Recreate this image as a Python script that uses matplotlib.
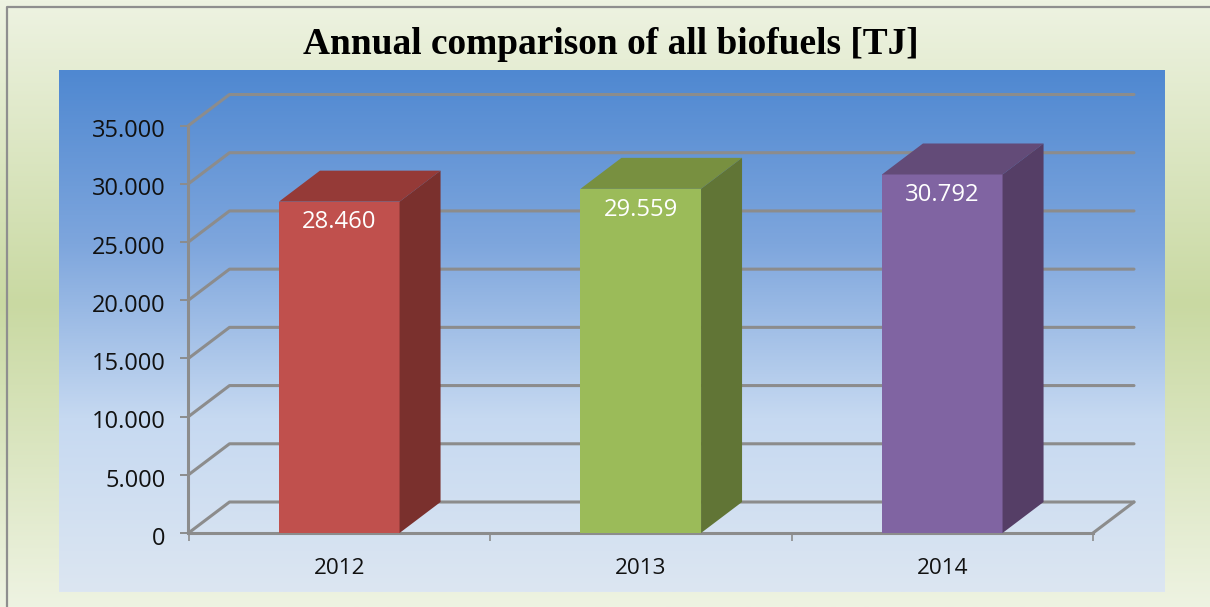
# -*- coding: utf-8 -*-
import matplotlib
matplotlib.use("Agg")
import matplotlib.pyplot as plt
import numpy as np
from matplotlib.colors import LinearSegmentedColormap
from matplotlib.patches import Polygon
from matplotlib.transforms import ScaledTranslation

W = 1210
H = 607

YEARS = ["2012", "2013", "2014"]
VALUES = [28460, 29559, 30792]
Y_TICKS = [0, 5000, 10000, 15000, 20000, 25000, 30000, 35000]
TITLE = "Annual comparison of all biofuels [TJ]"

FRONT_COLORS = ["#c0504d", "#9bbb59", "#8064a2"]
TOP_COLORS = ["#953a37", "#789040", "#634b78"]
SIDE_COLORS = ["#7a302d", "#617536", "#553e66"]

# pixel boxes of the figure
PLOT_BOX = (59, 70, 1165, 592)
FRONT_BOX = (188.5, 125.5, 1093, 533)
GRID = "#8c8c8c"
BAR_WIDTH = 0.4


def fmt(v):
    return f"{v:,}".replace(",", ".")


def add_axes_px(fig, x0, y0, x1, y1, **kw):
    return fig.add_axes([x0 / W, 1 - y1 / H, (x1 - x0) / W, (y1 - y0) / H], **kw)


def gradient(fig, box, stops, zorder):
    ax = add_axes_px(fig, *box)
    cmap = LinearSegmentedColormap.from_list("g", stops)
    ax.imshow(np.linspace(0, 1, 256).reshape(-1, 1), cmap=cmap, aspect="auto", vmin=0, vmax=1)
    ax.set_axis_off()
    ax.set_zorder(zorder)
    return ax


def main():
    plt.rcParams["font.family"] = ["Open Sans", "DejaVu Sans"]
    fig = plt.figure(figsize=(W / 100, H / 100), dpi=100)

    gradient(fig, (0, 0, W, H), ["#eef3e2", "#c9d9a2", "#eef3e2"], 0)
    gradient(fig, PLOT_BOX, ["#4f88d1", "#7ea6dd", "#c6d9f1", "#dce6f2"], 1)

    ax = add_axes_px(fig, *FRONT_BOX)
    ax.set_zorder(2)
    ax.patch.set_visible(False)
    ax.set_xlim(-0.5, 2.5)
    ax.set_ylim(0, 35000)
    for name in ["top", "right"]:
        ax.spines[name].set_visible(False)
    for name in ["left", "bottom"]:
        ax.spines[name].set_color(GRID)
        ax.spines[name].set_linewidth(2.2)

    # depth of the 3d box, 41 px across and 31 px up
    dx = 41 / (FRONT_BOX[2] - FRONT_BOX[0]) * 3
    dy = 31 / (FRONT_BOX[3] - FRONT_BOX[1]) * 35000

    for t in Y_TICKS:
        ax.plot([-0.5, -0.5 + dx, 2.5 + dx], [t, t + dy, t + dy], color=GRID, lw=2.2,
                clip_on=False, zorder=1, solid_capstyle="round", solid_joinstyle="round")
    ax.plot([2.5, 2.5 + dx], [0, dy], color=GRID, lw=2.2, clip_on=False, zorder=1,
            solid_capstyle="round")

    for i, v in enumerate(VALUES):
        x0 = i - BAR_WIDTH / 2
        x1 = i + BAR_WIDTH / 2
        ax.bar(i, v, width=BAR_WIDTH, color=FRONT_COLORS[i], zorder=3, clip_on=False)
        ax.add_patch(Polygon([(x0, v), (x1, v), (x1 + dx, v + dy), (x0 + dx, v + dy)],
                             closed=True, facecolor=TOP_COLORS[i], edgecolor="none",
                             zorder=3, clip_on=False))
        ax.add_patch(Polygon([(x1, 0), (x1 + dx, dy), (x1 + dx, v + dy), (x1, v)],
                             closed=True, facecolor=SIDE_COLORS[i], edgecolor="none",
                             zorder=3, clip_on=False))
        ax.annotate(fmt(v), (i, v), xytext=(0, -15), textcoords="offset points",
                    ha="center", va="center", color="white", fontsize=17.2, zorder=4)

    ax.set_yticks(Y_TICKS)
    ax.set_yticklabels([fmt(t) for t in Y_TICKS], fontsize=17, color="#111111")
    ax.set_xticks([-0.5, 0.5, 1.5, 2.5], minor=False)
    ax.set_xticklabels([])
    ax.set_xticks([0, 1, 2], minor=True)
    ax.set_xticklabels(YEARS, minor=True, fontsize=16.2, color="#111111")
    ax.tick_params(axis="y", length=5.5, width=1.4, color=GRID, pad=11)
    ax.tick_params(axis="x", which="major", length=5.5, width=1.2, color=GRID)
    ax.tick_params(axis="x", which="minor", length=0, pad=18)

    # labels sit about 2 px lower than the tick in the original
    shift = ScaledTranslation(0, -2 / 72, fig.dpi_scale_trans)
    for lab in ax.get_yticklabels():
        lab.set_transform(lab.get_transform() + shift)

    fig.text(611 / W, 1 - 44 / H, TITLE, ha="center", va="center", fontsize=26.9,
             fontweight="bold", family=["Liberation Serif", "DejaVu Serif"], color="black")

    # thin grey border, only left and top are inside the picture
    fig.add_artist(plt.Line2D([7 / W, 7 / W, 1], [0, 1 - 6.5 / H, 1 - 6.5 / H], color="#8f8f8f", lw=1.6))

    fig.savefig("out.png", dpi=100)
    plt.close(fig)


if __name__ == "__main__":
    main()
